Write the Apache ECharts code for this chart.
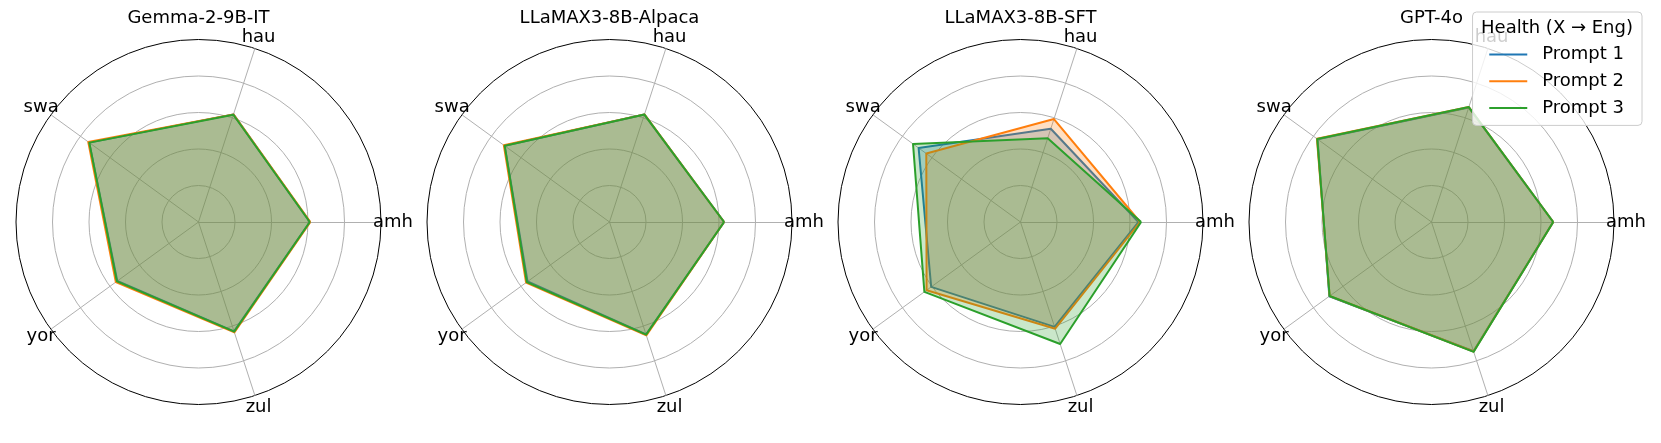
<!DOCTYPE html>
<html>
<head>
<meta charset="utf-8">
<script src="https://cdn.jsdelivr.net/npm/echarts@6/dist/echarts.min.js"></script>
<style>
  html, body { margin: 0; padding: 0; background: #fff; }
  #chart { width: 1661px; height: 443px; }
</style>
</head>
<body>
<div id="chart"></div>
<script>
// languages, counter-clockwise from the right
const langs = ["amh", "hau", "swa", "yor", "zul"];
const models = ["Gemma-2-9B-IT", "LLaMAX3-8B-Alpaca", "LLaMAX3-8B-SFT", "GPT-4o"];
const prompts = ["Prompt 1", "Prompt 2", "Prompt 3"];
const colors = ["#1f77b4", "#ff7f0e", "#2ca02c"];
const legendTitle = "Health (X \u2192 Eng)";

// scores per model, one row per prompt (amh, hau, swa, yor, zul)
const gemma = [
  [61.0, 62.0, 74.0, 55.0, 63.0],
  [61.3, 62.0, 74.7, 56.0, 63.6],
  [61.0, 61.8, 74.0, 55.3, 63.2]
];
const alpaca = [
  [62.8, 61.9, 71.0, 55.5, 64.8],
  [62.8, 62.0, 71.6, 56.5, 65.3],
  [62.8, 61.9, 71.0, 56.0, 64.9]
];
const sft = [
  [64.6, 53.7, 69.0, 60.5, 60.4],
  [65.5, 59.3, 63.8, 63.6, 61.5],
  [66.1, 48.2, 72.8, 65.1, 70.3]
];
const gpt4o = [
  [66.7, 66.0, 77.2, 69.2, 74.5],
  [66.7, 66.2, 77.6, 69.0, 74.6],
  [66.7, 66.2, 77.4, 69.0, 74.8]
];
const scores = [gemma, alpaca, sft, gpt4o];
const rMax = 100;

const font = "DejaVu Sans";
const fs = 18;
const centersX = [198.5, 609.5, 1020.5, 1431.5];
const centerY = 222;
const radius = 182.5;

const chart = echarts.init(document.getElementById("chart"), null, { renderer: "canvas" });

const radars = models.map((m, i) => ({
  center: [centersX[i], centerY],
  radius: radius,
  startAngle: 0,
  shape: "circle",
  splitNumber: 5,
  nameGap: 12,
  indicator: langs.map(l => ({ name: l, min: 0, max: rMax })),
  axisName: {
    color: "#000",
    fontFamily: font,
    fontSize: fs,
    align: "center",
    verticalAlign: "middle"
  },
  axisLine: { lineStyle: { color: "#b0b0b0", width: 1 } },
  splitLine: {
    lineStyle: {
      color: ["#b0b0b0", "#b0b0b0", "#b0b0b0", "#b0b0b0", "#b0b0b0", "#000"],
      width: 1
    }
  },
  splitArea: { show: false },
  axisTick: { show: false },
  axisLabel: { show: false }
}));

const series = models.map((m, i) => ({
  type: "radar",
  radarIndex: i,
  symbol: "none",
  silent: true,
  data: prompts.map((p, k) => ({
    name: p,
    value: scores[i][k],
    itemStyle: { color: colors[k] },
    lineStyle: { color: colors[k], width: 2 },
    areaStyle: { color: colors[k], opacity: 0.25 }
  }))
}));

const titles = models.map((m, i) => ({
  text: m,
  left: centersX[i],
  textAlign: "center",
  top: 9,
  padding: 0,
  textStyle: { fontFamily: font, fontSize: fs, fontWeight: "normal", color: "#000" }
}));
titles.push({
  text: legendTitle,
  left: 1557,
  textAlign: "center",
  top: 19.5,
  padding: 0,
  z: 10,
  textStyle: { fontFamily: font, fontSize: fs, fontWeight: "normal", color: "#000" }
});

const option = {
  animation: false,
  backgroundColor: "#fff",
  title: titles,
  radar: radars,
  legend: {
    data: prompts,
    orient: "vertical",
    align: "left",
    right: 19,
    top: 12,
    z: 8,
    selectedMode: false,
    icon: "rect",
    itemWidth: 38,
    itemHeight: 2,
    itemGap: 6.7,
    padding: [32.5, 18, 7.5, 16.7],
    backgroundColor: "rgba(255,255,255,0.8)",
    borderColor: "#cccccc",
    borderWidth: 1,
    borderRadius: 4,
    textStyle: {
      fontFamily: font,
      fontSize: fs,
      color: "#000",
      lineHeight: 20,
      padding: [0, 0, 0, 10]
    }
  },
  series: series
};

chart.setOption(option);
</script>
</body>
</html>
